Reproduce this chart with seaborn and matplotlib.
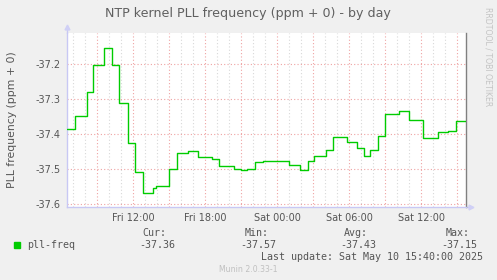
import matplotlib
matplotlib.use("Agg")
import matplotlib.pyplot as plt
import seaborn as sns
import pandas as pd
from matplotlib.ticker import FixedLocator

# ---- data (hours since Fri 00:00) ----
hours = [6.45, 7.18, 8.10, 8.67, 9.58, 10.20, 10.77, 11.58, 12.18, 12.77,
         13.64, 13.90, 15.00, 15.68, 16.56, 17.43, 18.56, 19.18, 20.43, 20.98,
         21.48, 22.14, 22.83, 24.98, 25.85, 26.56, 27.06, 28.02, 28.64, 29.77,
         30.60, 31.18, 31.72, 32.35, 32.93, 34.10, 34.98, 36.14, 37.39, 38.20,
         38.85, 39.72]
values = [-37.386, -37.349, -37.278, -37.202, -37.153, -37.202, -37.310, -37.426, -37.509, -37.569,
          -37.553, -37.549, -37.500, -37.453, -37.449, -37.466, -37.471, -37.491, -37.500, -37.503,
          -37.500, -37.480, -37.477, -37.489, -37.503, -37.477, -37.463, -37.446, -37.409, -37.423,
          -37.440, -37.461, -37.446, -37.406, -37.341, -37.334, -37.358, -37.411, -37.394, -37.391,
          -37.363, -37.363]
ytick_vals = [-37.6, -37.5, -37.4, -37.3, -37.2]
ytick_labels = ["-37.6", "-37.5", "-37.4", "-37.3", "-37.2"]
xtick_vals = [12, 18, 24, 30, 36]
xtick_labels = ["Fri 12:00", "Fri 18:00", "Sat 00:00", "Sat 06:00", "Sat 12:00"]
series_name = "pll-freq"
stat_names = ["Cur:", "Min:", "Avg:", "Max:"]
stat_values = ["-37.36", "-37.57", "-37.43", "-37.15"]

df = pd.DataFrame({"hour": hours, "value": values})

sns.set_style("white")
plt.rcParams["font.family"] = ["DejaVu Sans"]

W, H = 497, 280
fig = plt.figure(figsize=(W / 100, H / 100), dpi=100, facecolor="#F0F0F0")
L, R, T, B = 66.7, 466.0, 32.5, 207.0
ax = fig.add_axes([L / W, 1 - B / H, (R - L) / W, (B - T) / H])
ax.set_facecolor("white")

ax.set_xlim(6.45, 39.72)
ax.set_ylim(-37.6077, -37.1091)

# grids
minor_col = "#D8D8D8"
major_col = "#EFA3A3"
for h in range(7, 40):
    if h % 3 == 0:
        continue
    ax.axvline(h, color=minor_col, lw=0.8, ls=(0, (1, 2)), zorder=1)
for h in range(9, 40, 3):
    ax.axvline(h, color=major_col, lw=0.8, ls=(0, (1, 2)), zorder=1)
for v in ytick_vals:
    ax.axhline(v, color=major_col, lw=0.8, ls=(0, (1, 2)), zorder=1)

sns.lineplot(data=df, x="hour", y="value", drawstyle="steps-post",
             color="#00CC00", linewidth=1.0, ax=ax, zorder=3)

ax.set_xlabel("")
ax.set_ylabel("")
ax.xaxis.set_major_locator(FixedLocator(xtick_vals))
ax.set_xticklabels(xtick_labels)
ax.yaxis.set_major_locator(FixedLocator(ytick_vals))
ax.set_yticklabels(ytick_labels)
txt_col = "#555555"
ax.tick_params(axis="both", length=0, labelsize=7, labelcolor=txt_col)
ax.tick_params(axis="y", pad=4.5)
ax.tick_params(axis="x", pad=4)

ax.spines["top"].set_visible(False)
ax.spines["right"].set_color("#808080")
ax.spines["right"].set_linewidth(1)
ax.spines["left"].set_color("#C8C8F4")
ax.spines["bottom"].set_color("#C8C8F4")
ax.spines["left"].set_linewidth(1)
ax.spines["bottom"].set_linewidth(1)

# axis arrows
ax.plot([0, 0], [1, 1.025], transform=ax.transAxes, color="#C8C8F4", lw=1, clip_on=False)
ax.plot([0], [1.03], marker="^", markersize=3.5, color="#D0D0F6", transform=ax.transAxes, clip_on=False)
ax.plot([1, 1.01], [0, 0], transform=ax.transAxes, color="#C8C8F4", lw=1, clip_on=False)
ax.plot([1.013], [0], marker=">", markersize=3.5, color="#D0D0F6", transform=ax.transAxes, clip_on=False)

def fy(px):
    return 1 - px / H

def fx(px):
    return px / W

fig.text(fx(248), fy(14), "NTP kernel PLL frequency (ppm + 0) - by day",
         ha="center", va="center", fontsize=9.1, color="#606060")
fig.text(fx(12), fy(120), "PLL frequency (ppm + 0)", rotation=90,
         ha="center", va="center", fontsize=7.8, color=txt_col)
fig.text(fx(488), fy(57), "RRDTOOL / TOBI OETIKER", rotation=270,
         ha="center", va="center", fontsize=5.6, color="#C4C4C4")

mono = "DejaVu Sans Mono"
fig.patches.append(plt.Rectangle((fx(14), fy(247.5)), 6 / W, 6 / H,
                                 transform=fig.transFigure, color="#00CC00"))
fig.text(fx(26.7), fy(245), series_name, ha="left", va="center",
         fontsize=7.2, family=mono, color=txt_col)
name_right = [166.7, 268.3, 367.7, 469.3]
val_right = [175.3, 276.3, 376.7, 477.3]
for n, v, nx, vx in zip(stat_names, stat_values, name_right, val_right):
    fig.text(fx(nx), fy(233.5), n, ha="right", va="center", fontsize=7.2,
             family=mono, color=txt_col)
    fig.text(fx(vx), fy(245), v, ha="right", va="center", fontsize=7.2,
             family=mono, color=txt_col)
fig.text(fx(483.3), fy(257.5), "Last update: Sat May 10 15:40:00 2025",
         ha="right", va="center", fontsize=7.2, family=mono, color=txt_col)
fig.text(fx(248.7), fy(269.5), "Munin 2.0.33-1", ha="center", va="center",
         fontsize=5.6, color="#C0C0C0")

fig.savefig("out.png", dpi=100, facecolor=fig.get_facecolor())
